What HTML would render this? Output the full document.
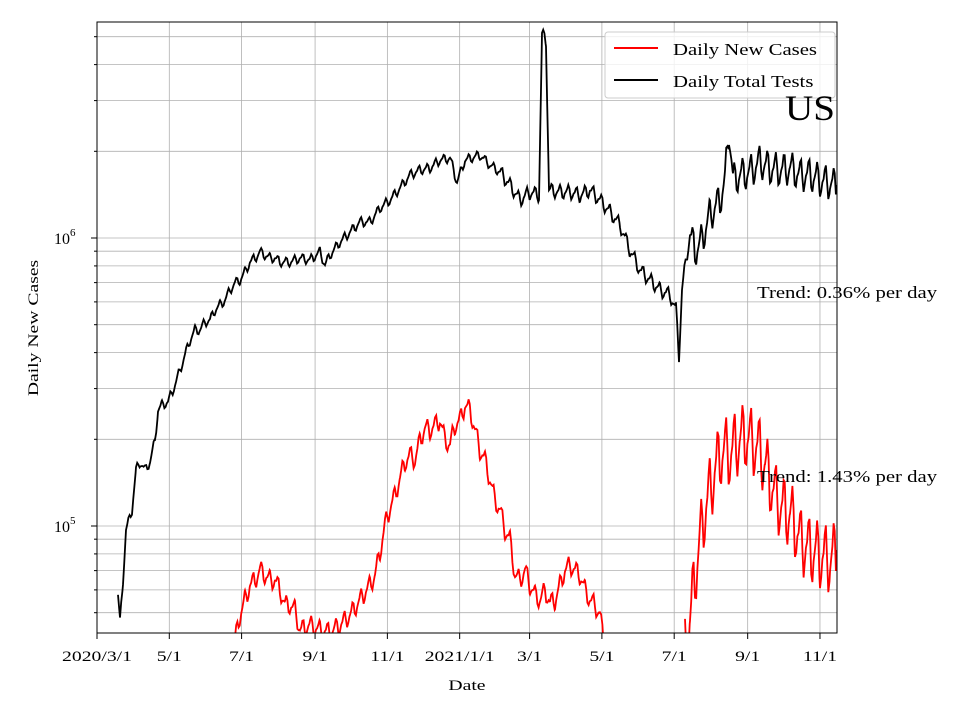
<!DOCTYPE html>
<html><head><meta charset="utf-8"><style>
body{margin:0;background:#fff;}
svg text{font-family:"Liberation Serif",serif;}
</style></head><body>
<svg id="s" width="960" height="720" xmlns="http://www.w3.org/2000/svg">
<defs><clipPath id="c"><rect x="97" y="22" width="740" height="611"/></clipPath></defs>
<g id="grid" stroke="#b0b0b0" stroke-width="0.8"></g>
<g clip-path="url(#c)">
<polyline id="blk" fill="none" stroke="#000" stroke-width="1.8"/>
<polyline id="red" fill="none" stroke="#f00" stroke-width="1.8"/>
<polyline id="red2" fill="none" stroke="#f00" stroke-width="1.8"/>
</g>
<rect x="97" y="22" width="740" height="611" fill="none" stroke="#000" stroke-width="1"/>
<g id="ticks" stroke="#000"></g>
<g id="lbl" font-size="15" fill="#000"></g>
<text class="w3" x="467" y="690" font-size="15" text-anchor="middle">Date</text>
<text class="w3" transform="translate(38,328) rotate(-90)" font-size="15" text-anchor="middle">Daily New Cases</text>
<text x="54" y="532" font-size="16">10</text><text x="70" y="524" font-size="11">5</text>
<text x="54" y="244" font-size="16">10</text><text x="70" y="236" font-size="11">6</text>
<rect x="605" y="32" width="230" height="66" fill="#fff" fill-opacity="0.8" stroke="#ccc" rx="3"/>
<line x1="614" y1="48" x2="658" y2="48" stroke="#f00" stroke-width="2"/>
<line x1="614" y1="80" x2="658" y2="80" stroke="#000" stroke-width="2"/>
<text class="w2" x="673" y="55" font-size="17">Daily New Cases</text>
<text class="w2" x="673" y="87" font-size="17">Daily Total Tests</text>
<text x="785" y="120" font-size="36" textLength="50" lengthAdjust="spacingAndGlyphs">US</text>
<text class="w2" x="757" y="298" font-size="17">Trend: 0.36% per day</text>
<text class="w2" x="757" y="482" font-size="17">Trend: 1.43% per day</text>
</svg>
<script>
var ns="http://www.w3.org/2000/svg";
function el(p,t,a,txt){var e=document.createElementNS(ns,t);for(var k in a)e.setAttribute(k,a[k]);if(txt)e.textContent=txt;p.appendChild(e);return e;}
var g=document.getElementById('grid'),tk=document.getElementById('ticks'),lb=document.getElementById('lbl');
function ly(v){return 526-(Math.log10(v)-5)*288;}
var vals=[5e4,6e4,7e4,8e4,9e4,1e5,2e5,3e5,4e5,5e5,6e5,7e5,8e5,9e5,1e6,2e6,3e6,4e6,5e6];
vals.forEach(function(v){var y=ly(v);if(y<22||y>633)return;el(g,'line',{x1:97,x2:837,y1:y,y2:y});
var maj=(v==1e5||v==1e6);el(tk,'line',{x1:maj?91:94,x2:97,y1:y,y2:y});});
var d0=Date.UTC(2020,2,1);function dx(y,m){return 97+(Date.UTC(y,m-1,1)-d0)/864e5*1.1852;}
var xt=[[2020,3,'2020/3/1'],[2020,5,'5/1'],[2020,7,'7/1'],[2020,9,'9/1'],[2020,11,'11/1'],[2021,1,'2021/1/1'],[2021,3,'3/1'],[2021,5,'5/1'],[2021,7,'7/1'],[2021,9,'9/1'],[2021,11,'11/1']];
xt.forEach(function(t){var x=dx(t[0],t[1]);el(g,'line',{x1:x,x2:x,y1:22,y2:633});el(tk,'line',{x1:x,x2:x,y1:633,y2:639});el(lb,'text',{x:x,y:661,'text-anchor':'middle','class':'w3'},t[2]);});
function build(pts,ampf,id){var out=[];for(var i=0;i<pts.length-1;i++){var a=pts[i],b=pts[i+1];for(var x=a[0];x<b[0];x+=1.1852){var t=(x-a[0])/(b[0]-a[0]);var y=a[1]+(b[1]-a[1])*t;var day=(x-97)/1.1852;y+=ampf(x)*Math.sin(2*Math.PI*day/7)+ampf(x)*0.4*Math.sin(2*Math.PI*day/3.5);out.push(x.toFixed(1)+','+y.toFixed(1));}}
var l=pts[pts.length-1];out.push(l[0]+','+l[1]);document.getElementById(id).setAttribute('points',out.join(' '));}
var B=[[118,595],[120,622],[123,580],[126,530],[132,510],[136,470],[140,462],[145,470],[150,462],[155,440],[158,410],[162,405],[168,402],[175,385],[180,370],[185,355],[190,340],[195,330],[200,330],[205,322],[210,320],[215,310],[220,305],[225,300],[230,290],[235,283],[240,280],[245,272],[250,262],[255,258],[260,252],[265,255],[270,258],[275,258],[280,262],[290,262],[300,258],[310,260],[320,252],[325,265],[330,255],[340,242],[350,232],[360,222],[370,222],[380,208],[390,200],[400,188],[410,175],[420,170],[430,168],[440,160],[450,158],[457,182],[465,160],[480,155],[490,165],[500,172],[510,185],[520,200],[530,192],[539,195],[542,35],[546,40],[549,190],[560,192],[570,192],[580,195],[590,190],[600,200],[610,212],[620,225],[630,250],[640,270],[650,280],[660,290],[670,295],[676,310],[679,355],[682,290],[686,260],[690,235],[695,250],[700,245],[710,215],[720,200],[725,180],[729,128],[733,180],[740,175],[750,172],[760,162],[770,168],[780,170],[790,168],[800,175],[810,175],[820,180],[830,183],[837,185]];
build(B,function(x){return x>690?14:(x>500?6:4);},'blk');
var R=[[235,640],[240,615],[245,600],[250,585],[255,580],[260,570],[265,575],[270,580],[275,580],[280,590],[285,605],[290,605],[295,610],[300,630],[310,625],[320,630],[330,632],[340,625],[350,615],[360,600],[370,585],[375,575],[380,552],[385,525],[390,508],[395,495],[400,478],[405,462],[410,455],[415,460],[420,440],[425,428],[430,430],[435,425],[440,420],[445,440],[450,445],[455,425],[460,420],[465,405],[470,410],[475,430],[480,450],[485,460],[490,480],[495,500],[500,510],[505,530],[510,540],[515,575],[520,580],[525,570],[530,585],[535,595],[540,600],[545,590],[550,603],[555,600],[560,585],[565,570],[570,565],[575,570],[580,575],[585,590],[590,600],[595,605],[600,615],[605,650]];
var R2=[[685,650],[690,620],[695,575],[700,540],[705,510],[710,490],[715,470],[720,455],[725,450],[730,455],[735,445],[740,440],[745,435],[750,440],[755,445],[760,450],[765,465],[770,480],[775,495],[780,505],[785,510],[790,515],[795,525],[800,540],[810,550],[820,555],[830,560],[837,550]];
build(R,function(x){return 8;},'red');
build(R2,function(x){return 28;},'red2');
document.querySelectorAll('text.w2,text.w3').forEach(function(e){var f=e.getAttribute('class')=='w3'?1.31:1.22;var L=e.getComputedTextLength();e.setAttribute('textLength',(L*f).toFixed(1));e.setAttribute('lengthAdjust','spacingAndGlyphs');});
</script>
</body></html>
